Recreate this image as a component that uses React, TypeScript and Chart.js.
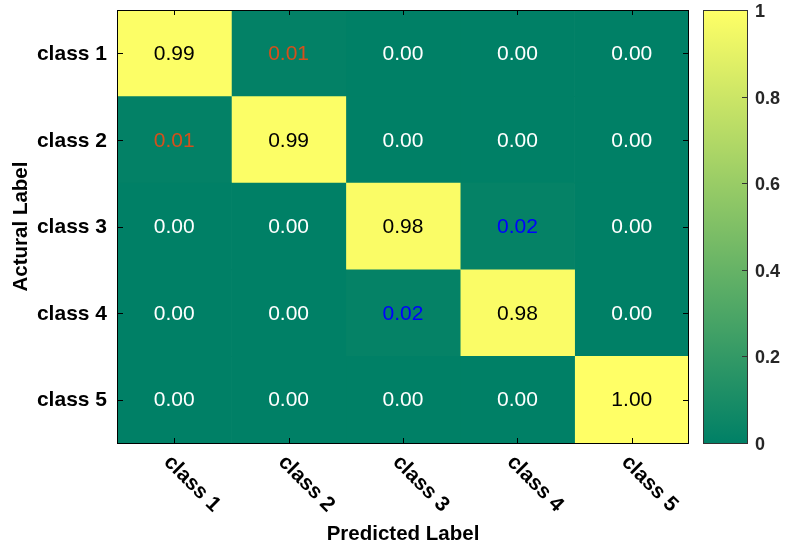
import React, { useEffect, useRef } from 'react';
import { Chart, registerables } from 'chart.js';

Chart.register(...registerables);

// ---------- data ----------
const actualLabels = ['class 1', 'class 2', 'class 3', 'class 4', 'class 5'];
const predictedLabels = ['class 1', 'class 2', 'class 3', 'class 4', 'class 5'];
const rowClass1 = [0.99, 0.01, 0.0, 0.0, 0.0];
const rowClass2 = [0.01, 0.99, 0.0, 0.0, 0.0];
const rowClass3 = [0.0, 0.0, 0.98, 0.02, 0.0];
const rowClass4 = [0.0, 0.0, 0.02, 0.98, 0.0];
const rowClass5 = [0.0, 0.0, 0.0, 0.0, 1.0];
const confusion = [rowClass1, rowClass2, rowClass3, rowClass4, rowClass5];
const colorbarTicks = [0, 0.2, 0.4, 0.6, 0.8, 1];
const xTitle = 'Predicted Label';
const yTitle = 'Actural Label';

// ---------- styles ----------
const FONT = '"Liberation Sans", Arial, Helvetica, sans-serif';
const textColorFor = (v: number): string => {
  const s = v.toFixed(2);
  if (s === '0.01') return '#D4501C';
  if (s === '0.02') return '#0000FF';
  if (v >= 0.5) return '#000000';
  return '#FFFFFF';
};
const summer = (v: number): string =>
  `rgb(${Math.round(255 * v)},${Math.round(255 * (0.5 + 0.5 * v))},102)`;

const zeroPad = (s: any) => {
  s.paddingTop = 0;
  s.paddingBottom = 0;
  s.paddingLeft = 0;
  s.paddingRight = 0;
};

const overlayPlugin = {
  id: 'overlay',
  afterDraw(chart: any) {
    const { ctx, chartArea } = chart;
    const xs = chart.scales.x;
    const ys = chart.scales.y;
    const cb = chart.scales.cb;
    const { left, right, top, bottom } = chartArea;
    ctx.save();

    // cell values
    ctx.font = `21px ${FONT}`;
    ctx.textAlign = 'center';
    ctx.textBaseline = 'middle';
    confusion.forEach((row, i) => {
      row.forEach((v, j) => {
        ctx.fillStyle = textColorFor(v);
        ctx.fillText(v.toFixed(2), xs.getPixelForValue(j), ys.getPixelForValue(i) + 1);
      });
    });

    // plot border
    ctx.strokeStyle = '#000';
    ctx.lineWidth = 1;
    ctx.strokeRect(Math.round(left) + 0.5, Math.round(top) + 0.5, Math.round(right - left) - 1, Math.round(bottom - top));

    // inward ticks
    ctx.beginPath();
    predictedLabels.forEach((_, j) => {
      const px = Math.round(xs.getPixelForValue(j)) + 0.5;
      ctx.moveTo(px, top); ctx.lineTo(px, top + 5);
      ctx.moveTo(px, bottom); ctx.lineTo(px, bottom - 5);
    });
    actualLabels.forEach((_, i) => {
      const py = Math.round(ys.getPixelForValue(i)) + 0.5;
      ctx.moveTo(left, py); ctx.lineTo(left + 6, py);
      ctx.moveTo(right, py); ctx.lineTo(right - 6, py);
    });
    ctx.stroke();

    // rotated x tick labels
    ctx.font = `bold 21px ${FONT}`;
    ctx.fillStyle = '#000';
    ctx.textAlign = 'left';
    ctx.textBaseline = 'middle';
    predictedLabels.forEach((lab, j) => {
      const px = xs.getPixelForValue(j);
      ctx.save();
      ctx.translate(px - 7, bottom + 16);
      ctx.rotate(Math.PI / 4);
      ctx.fillText(lab, 0, 0);
      ctx.restore();
    });

    // colorbar
    const cbLeft = cb.left + 14;
    const cbRight = cb.left + 58;
    const cTop = cb.getPixelForValue(1);
    const cBottom = cb.getPixelForValue(0);
    const grad = ctx.createLinearGradient(0, cBottom, 0, cTop);
    grad.addColorStop(0, summer(0));
    grad.addColorStop(1, summer(1));
    ctx.fillStyle = grad;
    ctx.fillRect(cbLeft, cTop, cbRight - cbLeft, cBottom - cTop);
    ctx.strokeStyle = '#333';
    ctx.strokeRect(Math.round(cbLeft) + 0.5, Math.round(cTop) + 0.5, Math.round(cbRight - cbLeft), Math.round(cBottom - cTop));
    ctx.beginPath();
    colorbarTicks.forEach((t) => {
      const py = Math.round(cb.getPixelForValue(t)) + 0.5;
      ctx.moveTo(Math.round(cbRight) + 0.5, py);
      ctx.lineTo(Math.round(cbRight) - 5, py);
    });
    ctx.stroke();
    ctx.restore();
  },
};

export default function App() {
  const ref = useRef<HTMLCanvasElement | null>(null);
  useEffect(() => {
    if (!ref.current) return;
    const datasets = predictedLabels.map((lab, j) => ({
      label: lab,
      data: actualLabels.map(() => [j - 0.5, j + 0.5]),
      backgroundColor: actualLabels.map((_, i) => summer(confusion[i][j])),
      borderWidth: 0,
      barPercentage: 1,
      categoryPercentage: 1,
      grouped: false,
      xAxisID: 'x',
      yAxisID: 'y',
    }));
    const chart = new Chart(ref.current, {
      type: 'bar',
      data: { labels: actualLabels, datasets: datasets as any },
      plugins: [overlayPlugin],
      options: {
        indexAxis: 'y',
        animation: false,
        responsive: false,
        devicePixelRatio: 1,
        layout: { padding: { top: 10, right: 0, left: 0, bottom: 0 } },
        plugins: { legend: { display: false }, tooltip: { enabled: false } },
        scales: {
          x: {
            type: 'linear',
            position: 'bottom',
            min: -0.5,
            max: 4.5,
            ticks: { display: false },
            grid: { display: false, drawTicks: false },
            border: { display: false },
            title: {
              display: true,
              text: xTitle,
              color: '#000',
              font: { family: FONT, size: 20.5, weight: 'bold' },
              padding: { top: 0, bottom: 4 },
            },
            afterFit: (s: any) => { s.height = 108; zeroPad(s); },
          },
          y: {
            type: 'category',
            position: 'left',
            offset: true,
            grid: { display: false, drawTicks: false },
            border: { display: false },
            ticks: { color: '#000', font: { family: FONT, size: 21, weight: 'bold' }, padding: 10, labelOffset: 1 },
            title: {
              display: true,
              text: yTitle,
              color: '#000',
              font: { family: FONT, size: 20.5, weight: 'bold' },
              padding: { top: 9, bottom: 0 },
            },
            afterFit: (s: any) => { s.width = 117; zeroPad(s); },
          },
          cb: {
            type: 'linear',
            position: 'right',
            offset: false,
            min: 0,
            max: 1,
            afterBuildTicks: (s: any) => { s.ticks = colorbarTicks.map((v) => ({ value: v })); },
            ticks: {
              color: '#262626',
              font: { family: FONT, size: 18, weight: 'bold' },
              padding: 66,
              labelOffset: 2,
              callback: (v: any) => String(Number(Number(v).toFixed(1))),
            },
            grid: { display: false, drawTicks: false, offset: false },
            border: { display: false },
            afterFit: (s: any) => { s.width = 99; zeroPad(s); },
          },
        } as any,
      } as any,
    });
    return () => chart.destroy();
  }, []);
  return (
    <div style={{ position: 'absolute', left: 0, top: 0, width: 788, height: 551, background: '#fff' }}>
      <canvas ref={ref} width={788} height={551} style={{ display: 'block', width: 788, height: 551 }} />
    </div>
  );
}
